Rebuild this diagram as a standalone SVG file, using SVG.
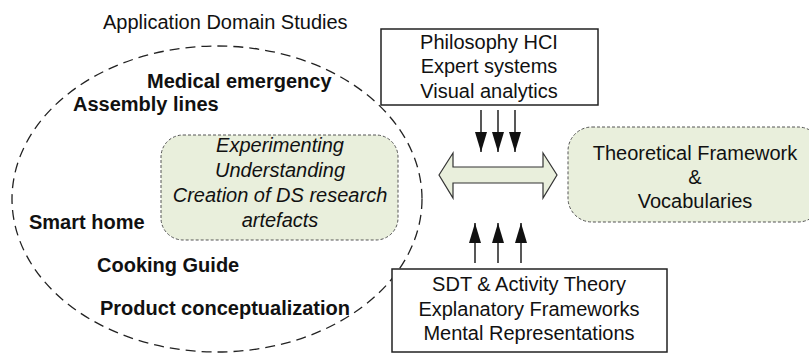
<svg xmlns="http://www.w3.org/2000/svg" width="809" height="354" viewBox="0 0 809 354">
  <defs>
    <style>
      text { font-family: "Liberation Sans", Arial, sans-serif; font-size: 20px; fill: #111; }
      .bold { font-weight: bold; }
      .ital { font-style: italic; }
      .mid { text-anchor: middle; }
      .domain { fill: none; stroke: #222; stroke-width: 1.3; stroke-dasharray: 10 6; }
      .soft { fill: #e9efdc; stroke: #555; stroke-width: 1; stroke-dasharray: 3 2; }
      .plain { fill: #fff; stroke: #222; stroke-width: 1.5; }
      .flow { stroke: #111; stroke-width: 1.4; fill: none; }
      .exchange { fill: #e9efdc; stroke: #333; stroke-width: 1.2; }
    </style>
    <marker id="tri" viewBox="0 0 20 12" refX="20" refY="6" markerWidth="20" markerHeight="12" markerUnits="userSpaceOnUse" orient="auto">
      <path d="M0,0 L20,6 L0,12 Z" fill="#111"/>
    </marker>
  </defs>

  <!-- application domain area -->
  <g id="domain">
    <text x="103" y="29">Application Domain Studies</text>
    <ellipse class="domain" cx="217" cy="199" rx="205" ry="153"/>
    <text class="bold" x="147" y="88">Medical emergency</text>
    <text class="bold" x="73" y="111">Assembly lines</text>
    <text class="bold" x="29" y="229">Smart home</text>
    <text class="bold" x="97" y="272">Cooking Guide</text>
    <text class="bold" x="100" y="315">Product conceptualization</text>
  </g>

  <!-- research activities -->
  <g id="research">
    <rect class="soft" x="161" y="135" width="237" height="105" rx="22" ry="22"/>
    <text class="ital mid" x="280" y="152">Experimenting</text>
    <text class="ital mid" x="280" y="177">Understanding</text>
    <text class="ital mid" x="280" y="202">Creation of DS research</text>
    <text class="ital mid" x="280" y="227">artefacts</text>
  </g>

  <!-- upper source fields -->
  <g id="upper-fields">
    <rect class="plain" x="381" y="29" width="217" height="76"/>
    <text class="mid" x="489" y="49">Philosophy HCI</text>
    <text class="mid" x="489" y="73">Expert systems</text>
    <text class="mid" x="489" y="98">Visual analytics</text>
  </g>

  <!-- theory outcome -->
  <g id="theory">
    <rect class="soft" x="568" y="127" width="254" height="95" rx="24" ry="24"/>
    <text class="mid" x="695" y="160">Theoretical Framework</text>
    <text class="mid" x="695" y="184">&amp;</text>
    <text class="mid" x="695" y="208">Vocabularies</text>
  </g>

  <!-- lower source fields -->
  <g id="lower-fields">
    <rect class="plain" x="392" y="269" width="275" height="83"/>
    <text class="mid" x="529" y="291">SDT &amp; Activity Theory</text>
    <text class="mid" x="529" y="316">Explanatory Frameworks</text>
    <text class="mid" x="529" y="340">Mental Representations</text>
  </g>

  <!-- connectors -->
  <g id="connectors">
    <polygon class="exchange" points="439,175 453,153 453,167 543,167 543,153 557,175 543,198 543,183 453,183 453,198"/>
    <line class="flow" x1="481" y1="110" x2="481" y2="152" marker-end="url(#tri)"/>
    <line class="flow" x1="498" y1="110" x2="498" y2="152" marker-end="url(#tri)"/>
    <line class="flow" x1="515" y1="110" x2="515" y2="152" marker-end="url(#tri)"/>
    <line class="flow" x1="475" y1="263" x2="475" y2="223" marker-end="url(#tri)"/>
    <line class="flow" x1="498" y1="263" x2="498" y2="223" marker-end="url(#tri)"/>
    <line class="flow" x1="521" y1="263" x2="521" y2="223" marker-end="url(#tri)"/>
  </g>
</svg>
